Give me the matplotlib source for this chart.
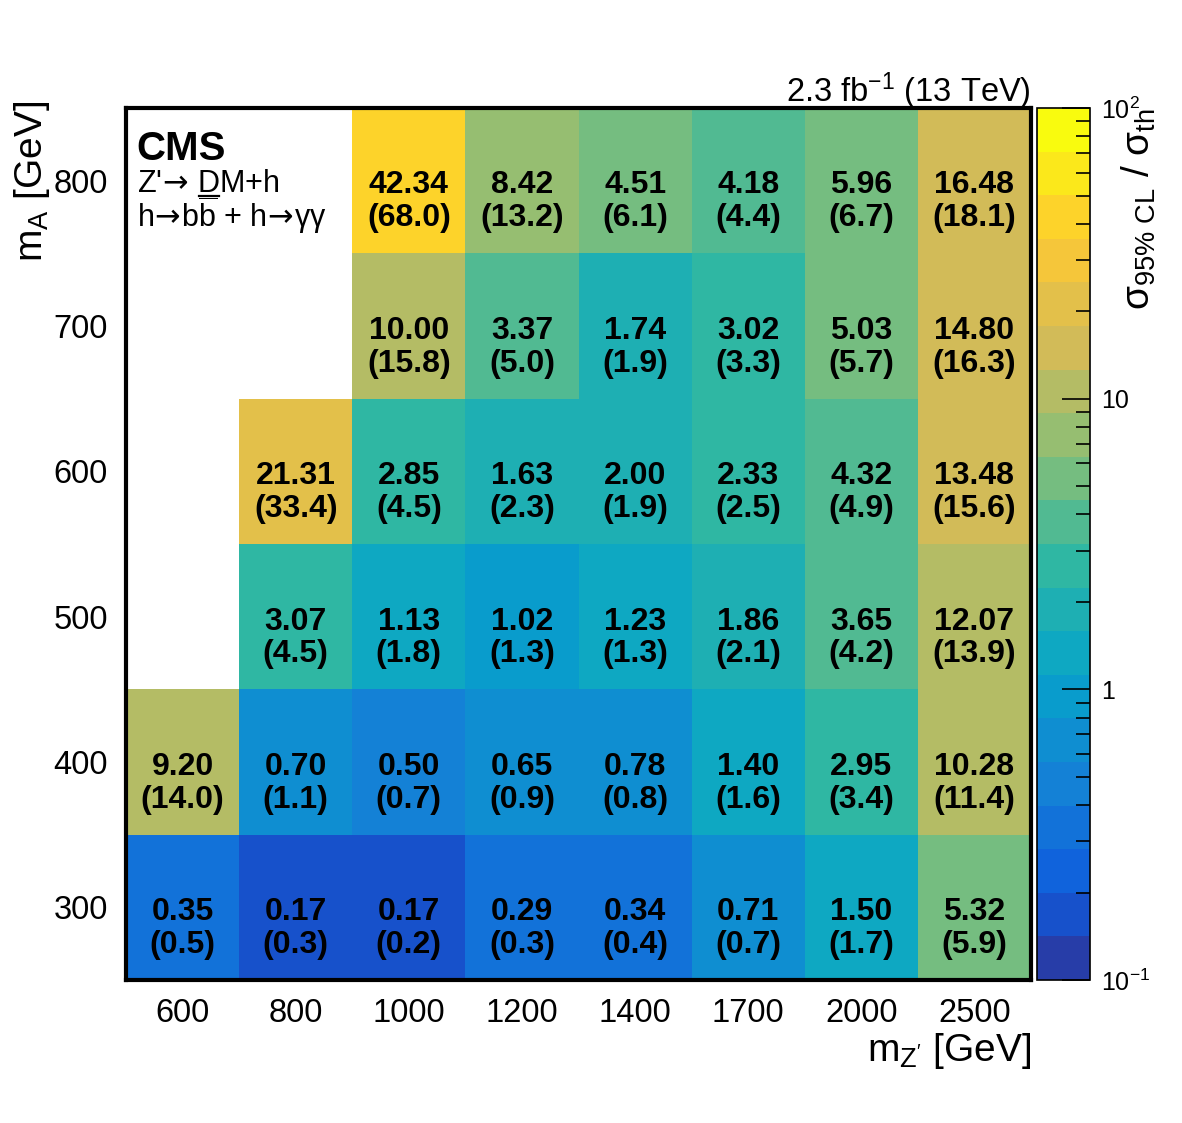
import numpy as np
import matplotlib
matplotlib.use("Agg")
import matplotlib.pyplot as plt
from matplotlib.colors import LinearSegmentedColormap, ListedColormap, LogNorm
from matplotlib.ticker import FixedLocator, NullFormatter, FixedFormatter
from matplotlib.lines import Line2D

plt.rcParams['font.family'] = ['Liberation Sans', 'DejaVu Sans']
plt.rcParams['mathtext.fontset'] = 'custom'
plt.rcParams['mathtext.rm'] = 'Liberation Sans'
plt.rcParams['mathtext.it'] = 'Liberation Sans:italic'
plt.rcParams['mathtext.bf'] = 'Liberation Sans:bold'
plt.rcParams['mathtext.sf'] = 'DejaVu Sans'

# Data
mzp_labels = ["600", "800", "1000", "1200", "1400", "1700", "2000", "2500"]
ma_values = [300, 400, 500, 600, 700, 800]

# observed sigma_95/sigma_th (rows: mA = 300..800)
observed = np.array([
    [0.35, 0.17, 0.17, 0.29, 0.34, 0.71, 1.50, 5.32],
    [9.20, 0.70, 0.50, 0.65, 0.78, 1.40, 2.95, 10.28],
    [np.nan, 3.07, 1.13, 1.02, 1.23, 1.86, 3.65, 12.07],
    [np.nan, 21.31, 2.85, 1.63, 2.00, 2.33, 4.32, 13.48],
    [np.nan, np.nan, 10.00, 3.37, 1.74, 3.02, 5.03, 14.80],
    [np.nan, np.nan, 42.34, 8.42, 4.51, 4.18, 5.96, 16.48],
])
# expected (in parentheses)
expected = np.array([
    [0.5, 0.3, 0.2, 0.3, 0.4, 0.7, 1.7, 5.9],
    [14.0, 1.1, 0.7, 0.9, 0.8, 1.6, 3.4, 11.4],
    [np.nan, 4.5, 1.8, 1.3, 1.3, 2.1, 4.2, 13.9],
    [np.nan, 33.4, 4.5, 2.3, 1.9, 2.5, 4.9, 15.6],
    [np.nan, np.nan, 15.8, 5.0, 1.9, 3.3, 5.7, 16.3],
    [np.nan, np.nan, 68.0, 13.2, 6.1, 4.4, 6.7, 18.1],
])

# ROOT kBird palette, 20 contour levels
stops = [0.0, 0.125, 0.25, 0.375, 0.5, 0.625, 0.75, 0.875, 1.0]
red = [0.2082, 0.0592, 0.0780, 0.0232, 0.1802, 0.5301, 0.8186, 0.9956, 0.9764]
green = [0.1664, 0.3599, 0.5041, 0.6419, 0.7178, 0.7492, 0.7328, 0.7862, 0.9832]
blue = [0.5293, 0.8684, 0.8385, 0.7914, 0.6425, 0.4662, 0.3499, 0.1968, 0.0539]
bird = LinearSegmentedColormap.from_list(
    "bird", list(zip(stops, zip(red, green, blue))))
ncont = 20
cmap = ListedColormap([bird((i + 1) / ncont) for i in range(ncont)])
cmap.set_bad("white")
norm = LogNorm(vmin=0.1, vmax=100)

fig = plt.figure(figsize=(11.82, 11.23), dpi=100)
ax = fig.add_axes([0.1066, 0.1273, 0.7657, 0.7765])
cax = fig.add_axes([0.8773, 0.1273, 0.0448, 0.7765])

xedges = np.arange(len(mzp_labels) + 1)
yedges = np.arange(250, 851, 100)
mesh = ax.pcolormesh(xedges, yedges, np.ma.masked_invalid(observed),
                     cmap=cmap, norm=norm, zorder=1)

# second line sits ~33 px below the first
line_gap = 22.7
for i, ma in enumerate(ma_values):
    for j in range(len(mzp_labels)):
        if np.isnan(observed[i, j]):
            continue
        ax.text(j + 0.5, ma - 3.3, f"{observed[i, j]:.2f}", ha="center",
                va="center", fontsize=23, fontweight="bold", zorder=3)
        ax.text(j + 0.5, ma - 3.3 - line_gap, f"({expected[i, j]:.1f})",
                ha="center", va="center", fontsize=23, fontweight="bold",
                zorder=3)

ax.set_xlim(0, len(mzp_labels))
ax.set_ylim(250, 850)
ax.set_axisbelow(True)
ax.set_xticks(np.arange(len(mzp_labels)) + 0.5)
ax.set_xticklabels(mzp_labels)
ax.set_xticks(xedges[1:-1], minor=True)
ax.set_yticks(ma_values)
ax.set_yticks(yedges[1:-1], minor=True)
ax.tick_params(which="major", length=0, labelsize=23.5)
ax.tick_params(axis="x", which="major", pad=13)
ax.tick_params(axis="y", which="major", pad=13)
ax.tick_params(which="minor", direction="in", length=19, width=1.2)
for s in ax.spines.values():
    s.set_linewidth(3)

ax.set_xlabel(r"m$_{\mathrm{Z'}}$ [GeV]", fontsize=28, loc="right")
ax.xaxis.set_label_coords(1.0, -0.058)
ax.set_ylabel(r"m$_{\mathrm{A}}$ [GeV]", fontsize=28, loc="top")
ax.yaxis.set_label_coords(-0.082, 1.008)

arrow = r"$\!\mathsf{\rightarrow}\!$"
ax.text(0.012, 0.975, "CMS", transform=ax.transAxes, fontsize=29,
        fontweight="bold", ha="left", va="top")
line1_y = 0.9035
ax.text(0.012, line1_y, "Z'" + arrow + " DM+h",
        transform=ax.transAxes, fontsize=22, ha="left", va="baseline")
ax.text(0.012, 0.864,
        "h" + arrow + r"b$\overline{\mathrm{b}}$ + h" + arrow + "\u03b3\u03b3",
        transform=ax.transAxes, fontsize=22, ha="left", va="baseline")

# underline below the "D" (measure where the D falls in the text)
fig.canvas.draw()
renderer = fig.canvas.get_renderer()
probe_b = ax.text(0.012, line1_y, "Z'" + arrow + " D", transform=ax.transAxes,
                  fontsize=22, ha="left", va="baseline")
probe_d = ax.text(0.012, line1_y, "D", transform=ax.transAxes,
                  fontsize=22, ha="left", va="baseline")
xb = probe_b.get_window_extent(renderer).x1
wd = probe_d.get_window_extent(renderer).width
probe_b.remove()
probe_d.remove()
base = ax.transAxes.transform((0.012, line1_y))[1] - 4
inv = fig.transFigure.inverted()
(fx0, fy), (fx1, _) = inv.transform([(xb - wd + 1, base), (xb - 1, base)])
fig.add_artist(Line2D([fx0, fx1], [fy, fy], color="black", lw=1.6,
                      transform=fig.transFigure))

ax.text(1.0, 0.996, r"2.3 fb$^{\mathrm{-1}}$ (13 TeV)", transform=ax.transAxes,
        fontsize=23.5, ha="right", va="bottom")

cbar = fig.colorbar(mesh, cax=cax)
cbar.outline.set_linewidth(1.2)
cax.yaxis.set_major_locator(FixedLocator([0.1, 1, 10, 100]))
cax.yaxis.set_major_formatter(FixedFormatter([r"$10^{-1}$", "1", "10", r"$10^{2}$"]))
cax.yaxis.set_minor_formatter(NullFormatter())
cax.tick_params(which="major", direction="in", length=20, width=1.2,
                labelsize=18, pad=8)
cax.tick_params(which="minor", direction="in", length=10, width=1.2)
cax.text(1.92, 1.0,
         r"$\mathrm{\sigma}_{95\%\ \mathrm{CL}}$ / $\mathrm{\sigma}_{\mathrm{th}}$",
         transform=cax.transAxes, rotation=90, fontsize=28,
         ha="center", va="top")

fig.savefig("out.png", dpi=100)
